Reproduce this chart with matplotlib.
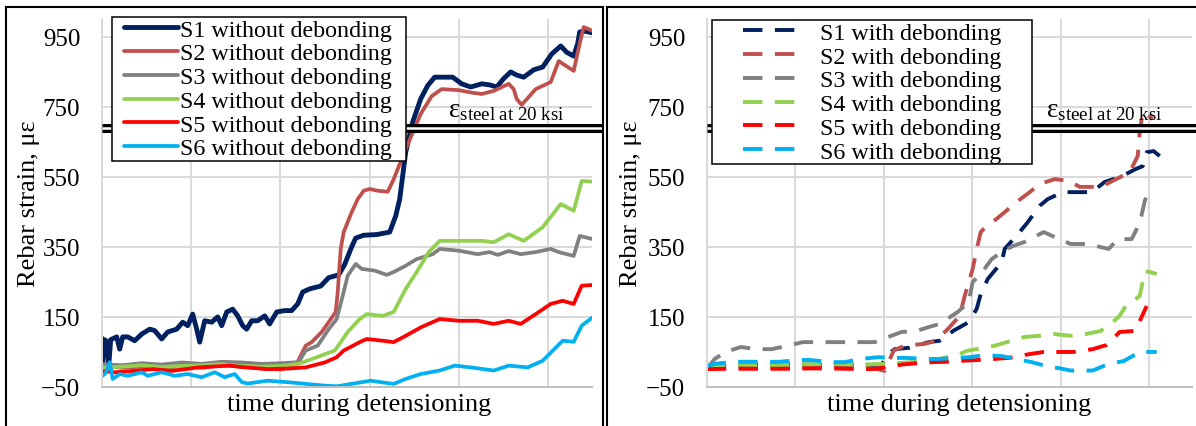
import numpy as np
import matplotlib
matplotlib.use("Agg")
import matplotlib.pyplot as plt
from matplotlib.lines import Line2D
from matplotlib.patches import Rectangle
from matplotlib.legend_handler import HandlerLine2D

plt.rcParams['font.family'] = ['Liberation Serif', 'DejaVu Serif']
plt.rcParams['mathtext.fontset'] = 'custom'
plt.rcParams['mathtext.rm'] = 'Liberation Serif'
plt.rcParams['mathtext.it'] = 'Liberation Serif:italic'

# ---- left panel: gauges without debonding (time in arbitrary steps, strain in micro-strain)
t_s1_nd = [0, 1, 3, 5, 7, 9, 15, 18, 21, 26, 33, 40, 48, 53, 60, 66, 75, 81, 86, 91, 95, 98, 103, 110, 116,
           120, 125, 131, 136, 141, 145, 150, 156, 163, 168, 175, 183, 190, 196, 201, 208, 219, 227, 237, 243,
           250, 254, 262, 275, 288, 294, 298, 304, 311, 319, 326, 333, 351, 360, 369, 380, 388, 395, 402, 409,
           415, 422, 432, 441, 450, 459, 465, 472, 476, 478, 484, 491]
s1_nd = [90, 20, 85, 80, 10, 85, 93, 58, 93, 93, 82, 101, 115, 111, 87, 107, 115, 135, 125, 158, 115, 78, 139, 135, 150,
         125, 164, 172, 153, 125, 115, 139, 139, 153, 130, 164, 168, 168, 187, 221, 230, 238, 262, 270, 300,
         350, 375, 383, 385, 392, 438, 486, 620, 706, 772, 810, 834, 834, 815, 806, 815, 812, 806, 830, 849,
         840, 834, 855, 863, 900, 923, 905, 894, 930, 963, 965, 960]
t_s2_nd = [0, 20, 40, 60, 80, 100, 120, 140, 160, 180, 195, 204, 210, 220, 227, 234, 236, 239, 242, 250, 256, 262,
           268, 276, 286, 292, 304, 319, 330, 340, 357, 370, 380, 392, 407, 412, 415, 420, 434, 449, 457, 465,
           472, 478, 482, 491]
s2_nd = [10, 5, 8, 3, 10, 5, 12, 8, 3, 0, 16, 68, 78, 107, 135, 164, 220, 344, 392, 449, 486, 510,
         515, 510, 507, 543, 629, 729, 780, 800, 797, 790, 786, 795, 815, 800, 772, 755, 800, 820, 880, 865,
         852, 930, 977, 966]
t_s3_nd = [0, 20, 40, 60, 80, 100, 120, 140, 160, 180, 197, 204, 216, 227, 235, 241, 246, 254, 260, 273, 285, 292,
           304, 315, 331, 338, 357, 376, 388, 396, 407, 419, 434, 449, 457, 472, 478, 491]
s3_nd = [15, 12, 18, 14, 20, 16, 22, 20, 16, 18, 21, 54, 68, 115, 144, 210, 268, 301, 287, 282, 270, 278,
         296, 315, 329, 344, 339, 329, 335, 327, 338, 329, 335, 344, 335, 324, 381, 372]
t_s4_nd = [0, 20, 40, 60, 80, 100, 120, 140, 160, 180, 197, 216, 233, 239, 246, 258, 265, 281, 292, 304, 315, 327,
           338, 357, 380, 392, 407, 422, 441, 459, 472, 480, 491]
s4_nd = [5, 8, 12, 7, 10, 12, 15, 10, 8, 10, 16, 36, 54, 78, 107, 144, 158, 153, 164, 230, 278, 335,
         367, 367, 367, 363, 386, 367, 406, 472, 453, 538, 536]
t_s5_nd = [0, 13, 32, 51, 70, 97, 128, 143, 166, 189, 204, 223, 235, 242, 258, 265, 281, 292, 304, 319, 338, 357,
           376, 392, 407, 419, 434, 449, 461, 472, 480, 491]
s5_nd = [-4, -8, -4, 1, -4, 6, 11, 6, 1, 3, 6, 20, 35, 54, 78, 87, 82, 78, 96, 120, 144, 139,
         139, 130, 139, 130, 158, 187, 196, 187, 239, 241]
t_s6_nd = [0, 4, 8, 11, 18, 26, 40, 46, 60, 73, 86, 100, 113, 123, 133, 140, 146, 166, 189, 204, 223, 235, 250,
           269, 281, 292, 304, 319, 338, 353, 369, 392, 407, 426, 441, 461, 472, 480, 491]
s6_nd = [-20, -10, 21, -27, -13, -18, -8, -18, -8, -18, -13, -22, -8, -22, -13, -36, -40, -32, -37, -41, -46, -48, -41,
         -32, -37, -41, -27, -13, -3, 11, 6, -3, 11, 6, 25, 82, 79, 125, 149]

# ---- right panel: gauges with debonding
t_s1_d = [0, 20, 40, 60, 80, 100, 120, 140, 160, 175, 182, 188, 203, 222, 233, 247, 262, 270, 274, 281, 295, 298,
          310, 321, 333, 341, 356, 371, 385, 398, 413, 421, 429, 436, 440, 447, 453]
s1_d = [10, 14, 15, 12, 15, 14, 13, 15, 12, 14, 45, 58, 62, 78, 82, 111, 135, 173, 215, 258, 306, 344,
        382, 420, 467, 486, 506, 506, 506, 535, 549, 560, 572, 580, 620, 623, 609]
t_s2_d = [0, 20, 40, 60, 80, 100, 120, 140, 160, 170, 178, 187, 198, 218, 229, 241, 253, 258, 266, 270, 274, 280,
          290, 298, 310, 323, 333, 348, 362, 373, 385, 394, 406, 423, 431, 433, 436, 440, 446]
s2_d = [5, 7, 6, 5, 7, 6, 5, 7, 5, 1, -4, 54, 68, 73, 82, 115, 153, 210, 287, 344, 392, 410,
        430, 449, 478, 506, 529, 543, 538, 521, 521, 521, 538, 563, 609, 677, 734, 729, 714]
t_s3_d = [0, 8, 19, 34, 50, 65, 80, 96, 107, 124, 138, 153, 168, 176, 195, 210, 222, 233, 251, 262, 266, 274,
          285, 295, 306, 318, 337, 348, 364, 379, 390, 402, 411, 425, 430, 434, 438, 441, 446]
s3_d = [1, 30, 50, 64, 58, 58, 67, 78, 78, 78, 78, 78, 78, 87, 107, 110, 121, 130, 164, 192, 250, 272,
        315, 335, 352, 364, 392, 378, 358, 358, 352, 344, 372, 372, 401, 429, 480, 506, 495]
t_s4_d = [0, 10, 30, 60, 90, 120, 150, 180, 200, 222, 233, 253, 260, 287, 300, 318, 333, 348, 364, 379, 394, 406,
          413, 419, 425, 433, 436, 438, 446, 450]
s4_d = [1, 12, 14, 12, 14, 16, 14, 16, 20, 24, 30, 44, 53, 67, 78, 93, 96, 101, 96, 101, 110, 135,
        153, 181, 192, 210, 250, 281, 276, 272]
t_s5_d = [0, 20, 40, 60, 80, 100, 120, 140, 164, 180, 195, 211, 226, 241, 256, 271, 287, 302, 323, 337, 352, 367,
          386, 400, 413, 428, 434, 440]
s5_d = [1, 2, 2, 2, 2, 3, 3, 2, 1, 6, 14, 18, 21, 22, 25, 27, 30, 33, 44, 50, 50, 50,
        58, 70, 107, 110, 144, 181]
t_s6_d = [0, 8, 27, 42, 50, 73, 92, 103, 126, 138, 153, 172, 184, 199, 222, 233, 249, 262, 279, 295, 310, 325,
          343, 352, 364, 386, 402, 417, 433, 450]
s6_d = [10, 16, 22, 22, 22, 22, 27, 27, 21, 21, 30, 35, 33, 33, 30, 30, 33, 35, 41, 38, 30, 21,
        7, 4, -3, -3, 16, 24, 50, 50]

gauges = ["S1", "S2", "S3", "S4", "S5", "S6"]
colors = ["#002060", "#C0504D", "#808080", "#92D050", "#FF0000", "#00B0F0"]
eps_steel_20ksi = 690  # 20 ksi / 29000 ksi

W, H = 1196, 427
fig = plt.figure(figsize=(W / 100, H / 100), dpi=100)
axL = fig.add_axes([101.7 / W, 39 / H, 490 / W, 368 / H])
axR = fig.add_axes([706.7 / W, 39 / H, 485 / W, 368 / H])


def setup(ax, xmax, xstep):
    ax.set_xlim(0, xmax)
    ax.set_ylim(-50, 1000)
    ax.set_yticks(range(-50, 951, 200))
    ax.set_xticks(np.arange(0, xmax, xstep))
    ax.tick_params(axis='x', length=0, labelbottom=False)
    ax.tick_params(axis='y', length=0, pad=15.5, labelsize=18)
    ax.grid(True, color='#D9D9D9', lw=1.4)
    ax.set_axisbelow(True)
    ax.spines['top'].set_visible(False)
    ax.spines['right'].set_visible(False)
    ax.spines['left'].set_color('#D9D9D9')
    ax.spines['left'].set_linewidth(1.4)
    ax.spines['bottom'].set_color('#BFBFBF')
    ax.spines['bottom'].set_linewidth(1.4)
    ax.set_ylabel("Rebar strain, με", fontsize=19)
    ax.set_xlabel("time during detensioning", fontsize=19)


setup(axL, 490, 89.3)
setup(axR, 485, 88.5)
axL.yaxis.set_label_coords(-0.1265, 0.5)
axR.yaxis.set_label_coords(-0.133, 0.5)
axL.xaxis.set_label_coords(0.526, -0.016)
axR.xaxis.set_label_coords(0.520, -0.016)

left_t = [t_s1_nd, t_s2_nd, t_s3_nd, t_s4_nd, t_s5_nd, t_s6_nd]
left_v = [s1_nd, s2_nd, s3_nd, s4_nd, s5_nd, s6_nd]
right_t = [t_s1_d, t_s2_d, t_s3_d, t_s4_d, t_s5_d, t_s6_d]
right_v = [s1_d, s2_d, s3_d, s4_d, s5_d, s6_d]

linesL = []
for i in range(6):
    lw = 3.5 if i == 0 else 2.7
    ln, = axL.plot(left_t[i], left_v[i], color=colors[i], lw=lw, zorder=2,
                   solid_joinstyle='round', solid_capstyle='round')
    linesL.append(ln)

linesR = []
for i in range(6):
    ln, = axR.plot(right_t[i], right_v[i], color=colors[i], lw=2.8, zorder=2,
                   linestyle=(0, (5, 3.2)), dash_capstyle='butt')
    linesR.append(ln)

# double line for steel strain at 20 ksi
for ax, xext in [(axL, 1.02), (axR, 1.01)]:
    ax.axhline(eps_steel_20ksi, xmin=0, xmax=xext, color='black', lw=6.5, zorder=4,
               clip_on=False, solid_capstyle='butt')
    ax.axhline(eps_steel_20ksi, xmin=0, xmax=xext, color='white', lw=1.8, zorder=4.1,
               clip_on=False, solid_capstyle='butt')

label = r'ε$_{\mathrm{steel\ at\ 20\ ksi}}$'
axL.text(0.707, 723, label, transform=axL.get_yaxis_transform(), fontsize=19.5,
         va='baseline', ha='left', zorder=7)
axR.text(0.700, 723, label, transform=axR.get_yaxis_transform(), fontsize=19.5,
         va='baseline', ha='left', zorder=7)


def add_legend(ax, handles, labels, x0, w, top, hlen, tpad, mpad):
    leg = ax.legend(handles, labels, loc='upper left', bbox_to_anchor=(x0, 0, w, top),
                    mode='expand', borderaxespad=0, fontsize=17.3, handlelength=hlen,
                    handletextpad=tpad, borderpad=0.08, labelspacing=0.08,
                    fancybox=False, edgecolor='black', framealpha=1,
                    handler_map={Line2D: HandlerLine2D(numpoints=2, marker_pad=mpad)})
    leg.get_frame().set_linewidth(1.1)
    leg.set_zorder(6)
    return leg


add_legend(axL, linesL, [g + " without debonding" for g in gauges],
           0.021, 0.600, 1.0054, 3.05, -0.32, 0.4)
add_legend(axR, linesR, [g + " with debonding" for g in gauges],
           0.011, 0.660, 0.997, 4.55, -0.15, 1.19)

# panel borders
top = 1 - 7.5 / H
fig.add_artist(Rectangle((6 / W, -0.1), (603 - 6) / W, top + 0.1, transform=fig.transFigure,
                         fill=False, ec='black', lw=1.5))
fig.add_artist(Rectangle((607 / W, -0.1), 0.6, top + 0.1, transform=fig.transFigure,
                         fill=False, ec='black', lw=1.5))

fig.savefig("out.png", dpi=100)
